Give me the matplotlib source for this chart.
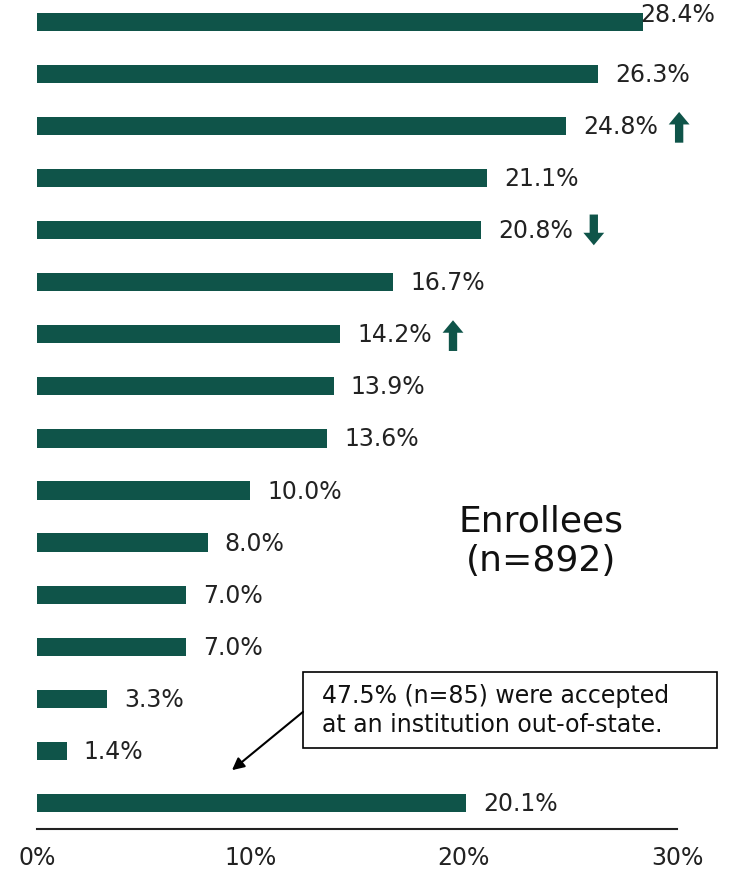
from matplotlib import pyplot as plt
from matplotlib.patches import Rectangle
import numpy as np

# Bar values, top to bottom
values = [28.4, 26.3, 24.8, 21.1, 20.8, 16.7, 14.2, 13.9, 13.6, 10.0, 8.0, 7.0, 7.0, 3.3, 1.4, 20.1]
labels = ["28.4%", "26.3%", "24.8%", "21.1%", "20.8%", "16.7%", "14.2%", "13.9%",
          "13.6%", "10.0%", "8.0%", "7.0%", "7.0%", "3.3%", "1.4%", "20.1%"]
# trend markers: +1 up arrow, -1 down arrow, 0 none
trends = [0, 0, 1, 0, -1, 0, 1, 0, 0, 0, 0, 0, 0, 0, 0, 0]
xticks = [0, 10, 20, 30]
xtick_labels = ["0%", "10%", "20%", "30%"]

green = "#0f5449"
fs = 17

fig = plt.figure(figsize=(7.33, 8.74), dpi=100)
ax = fig.add_axes([37 / 733, 45 / 874, 640 / 733, 829 / 874])

y = np.arange(len(values))
ax.barh(y, values, height=0.35, color=green)

for i, (v, lab, t) in enumerate(zip(values, labels, trends)):
    if i == 0:
        # top label squeezed against the bar end
        ax.text(v - 0.1, i - 0.13, lab, va="center", ha="left", fontsize=fs, color="#222222")
    else:
        ax.text(v + 0.8, i + 0.02, lab, va="center", ha="left", fontsize=fs, color="#222222")
    if t != 0:
        ax_x = v + 5.3
        if t > 0:
            start, end = i + 0.32, i - 0.27
        else:
            start, end = i - 0.3, i + 0.29
        ax.annotate("", xy=(ax_x, end), xytext=(ax_x, start), annotation_clip=False,
                    arrowprops=dict(width=6, headwidth=15, headlength=9,
                                    shrink=0, color=green, lw=0, clip_on=False))

ax.text(23.63, 9.97, "Enrollees\n(n=892)", ha="center", va="center", fontsize=26,
        color="#111111")

# callout box
ax.add_patch(Rectangle((12.47, 12.49), 19.41, 1.455, fill=False, edgecolor="black",
                       lw=1.2, clip_on=False))
ax.text(13.36, 13.22, "47.5% (n=85) were accepted\nat an institution out-of-state.",
        ha="left", va="center", fontsize=fs, color="#111111", linespacing=1.25)
ax.annotate("", xy=(9.14, 14.37), xytext=(12.47, 13.25),
            arrowprops=dict(arrowstyle="-|>", color="black", lw=1.5,
                            mutation_scale=18, shrinkA=0, shrinkB=0))

ax.set_xlim(0, 30)
ax.set_ylim(15.5, -0.42)
ax.set_xticks(xticks)
ax.set_xticklabels(xtick_labels, fontsize=fs, color="#222222")
ax.set_yticks([])
ax.tick_params(axis="x", length=0, pad=12)
for s in ["top", "right", "left"]:
    ax.spines[s].set_visible(False)
ax.spines["bottom"].set_linewidth(1.5)
ax.spines["bottom"].set_color("#222222")

fig.savefig("out.png", dpi=100)
